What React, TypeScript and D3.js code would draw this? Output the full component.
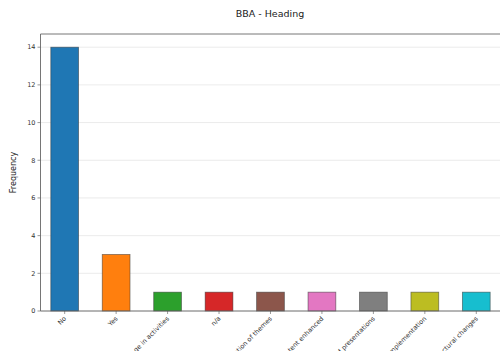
import React from "react";
import * as d3 from "d3";

const categories = [
  "No",
  "Yes",
  "Change in activities",
  "n/a",
  "Clarification of themes",
  "Content enhanced",
  "Improved presentations",
  "Better implementation",
  "Structural changes",
];
const values = [14, 3, 1, 1, 1, 1, 1, 1, 1];
const colors = [
  "#1f77b4", "#ff7f0e", "#2ca02c", "#d62728", "#8c564b",
  "#e377c2", "#7f7f7f", "#bcbd22", "#17becf",
];
const yTicks = [0, 2, 4, 6, 8, 10, 12, 14];

export default function App() {
  const W = 500, H = 351;
  const left = 40.5, top = 34, bottom = 311;
  const x = d3.scaleLinear().domain([-0.47, 8.5]).range([left, left + 8.97 * 51.45]);
  const y = d3.scaleLinear().domain([0, 14.7]).range([bottom, top]);
  const bw = 0.54;
  const font = "DejaVu Sans, sans-serif";
  return (
    <svg width={W} height={H} style={{ position: "fixed", left: 0, top: 0, background: "#fff" }}>
      <rect width={W} height={H} fill="#fff" />
      {yTicks.map((t) => (
        <g key={t}>
          <line x1={left} x2={W} y1={y(t)} y2={y(t)} stroke="#e6e6e6" strokeWidth={0.8} />
          <line x1={left - 3} x2={left} y1={y(t)} y2={y(t)} stroke="#555" strokeWidth={0.6} />
          <text x={left - 5} y={y(t)} dy="0.35em" textAnchor="end" fontSize={6.5} fill="#333" fontFamily={font}>{t}</text>
        </g>
      ))}
      {values.map((v, i) => (
        <rect key={i} x={x(i - bw / 2)} y={y(v)} width={x(bw) - x(0)} height={y(0) - y(v)}
          fill={colors[i]} stroke="#333" strokeOpacity={0.6} strokeWidth={0.8} />
      ))}
      <line x1={left} x2={left} y1={top} y2={bottom} stroke="#666" strokeWidth={0.9} />
      <line x1={left} x2={W} y1={top} y2={top} stroke="#666" strokeWidth={0.9} />
      <line x1={left} x2={W} y1={bottom} y2={bottom} stroke="#666" strokeWidth={0.9} />
      {categories.map((c, i) => (
        <g key={c}>
          <line x1={x(i)} x2={x(i)} y1={bottom} y2={bottom + 3} stroke="#555" strokeWidth={0.6} />
          <text transform={`translate(${x(i) + 2},${bottom + 8}) rotate(-45)`} textAnchor="end"
            fontSize={6.5} fill="#333" fontFamily={font}>{c}</text>
        </g>
      ))}
      <text x={270} y={17} textAnchor="middle" fontSize={9.5} fill="#222" fontFamily={font}>BBA - Heading</text>
      <text transform={`translate(16,${(top + bottom) / 2}) rotate(-90)`} textAnchor="middle"
        fontSize={8} fill="#222" fontFamily={font}>Frequency</text>
    </svg>
  );
}
